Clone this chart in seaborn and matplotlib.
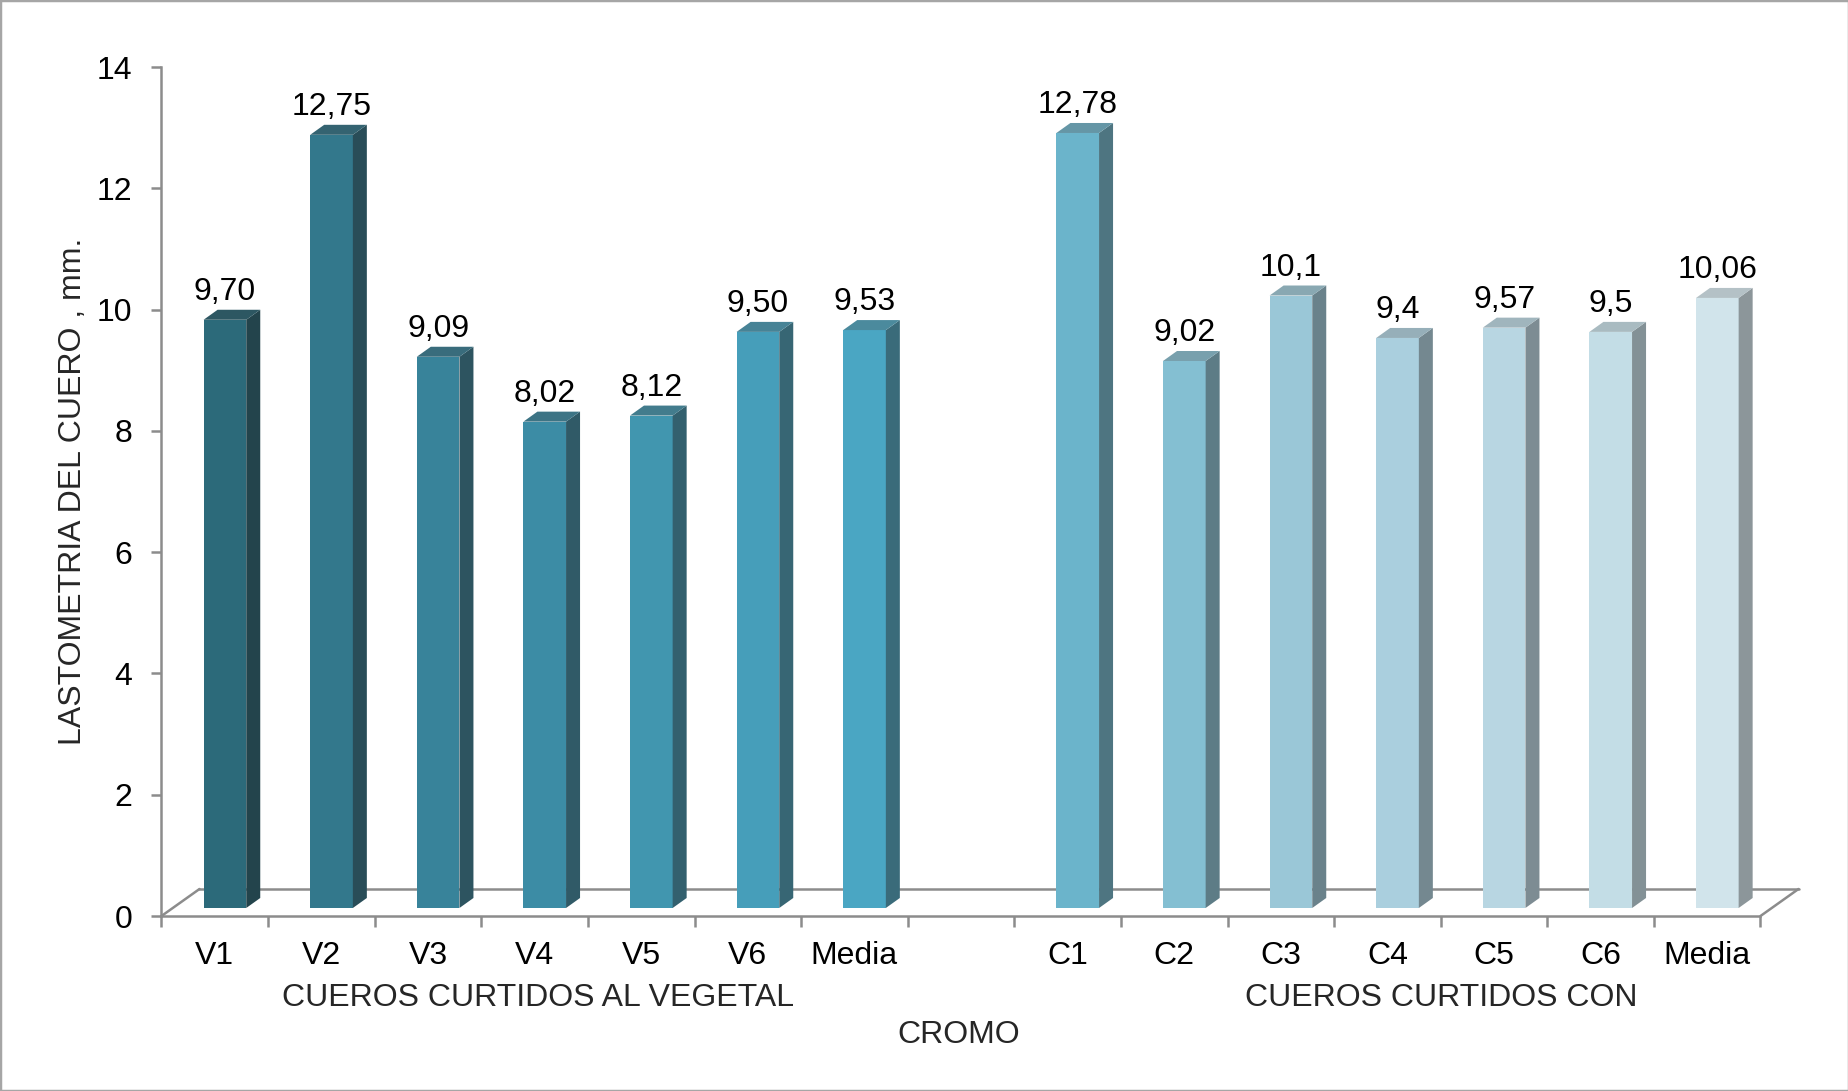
import numpy as np
import pandas as pd
import matplotlib
matplotlib.use("Agg")
import matplotlib.pyplot as plt
from matplotlib.patches import Polygon, Rectangle
from matplotlib.colors import to_rgb
import seaborn as sns

# ---- data -------------------------------------------------------------
categories = ["V1", "V2", "V3", "V4", "V5", "V6", "Media", "",
              "C1", "C2", "C3", "C4", "C5", "C6", "Media"]
positions = [0, 1, 2, 3, 4, 5, 6, 8, 9, 10, 11, 12, 13, 14]
values = [9.70, 12.75, 9.09, 8.02, 8.12, 9.50, 9.53,
          12.78, 9.02, 10.1, 9.4, 9.57, 9.5, 10.06]
value_labels = ["9,70", "12,75", "9,09", "8,02", "8,12", "9,50", "9,53",
                "12,78", "9,02", "10,1", "9,4", "9,57", "9,5", "10,06"]
front_colors = ["#2C6A7A", "#33788C", "#38839A", "#3C8CA5", "#4196AF", "#469EBA", "#4AA6C3",
                "#6BB4CB", "#84BFD2", "#9AC7D7", "#AACFDE", "#B8D6E2", "#C3DDE6", "#D1E4EB"]
y_ticks = [0, 2, 4, 6, 8, 10, 12, 14]
y_title = "LASTOMETRIA DEL CUERO , mm."
group_left = "CUEROS CURTIDOS AL VEGETAL"
group_right = "CUEROS CURTIDOS CON"
group_right_2 = "CROMO"

# ---- figure -----------------------------------------------------------
W, H = 1849, 1091
sns.set_theme(style="white")
plt.rcParams["font.family"] = ["Liberation Sans", "DejaVu Sans"]
FS = 23

fig = plt.figure(figsize=(W / 100, H / 100), dpi=100)
fig.patch.set_facecolor("white")

# plot area in pixels
x0, x1 = 161.5, 1760.5
y_top, y_bot = 67, 916
ax = fig.add_axes([x0 / W, (H - y_bot) / H, (x1 - x0) / W, (y_bot - y_top) / H])

df = pd.DataFrame({"pos": positions, "value": values, "key": [f"b{i}" for i in range(len(values))]})
sns.barplot(data=df, x="pos", y="value", hue="key", palette=front_colors,
            native_scale=True, dodge=False, legend=False, width=0.4,
            saturation=1, ax=ax, zorder=3)

ax.set_xlim(-0.5, 14.5)
ax.set_ylim(0, 14)

px_x = (x1 - x0) / 15.0   # pixels per category slot
px_y = (y_bot - y_top) / 14.0  # pixels per unit

# depth geometry (in data units)
base = 8 / px_y          # bars stand slightly behind the front edge of the floor
shift = 0.095            # bar offset to the right inside its slot
ddx = 14 / px_x          # bar depth, horizontal
ddy = 10 / px_y          # bar depth, vertical
fdx = 38 / px_x          # floor depth, horizontal
fdy = 27 / px_y          # floor depth, vertical


def shade(c, f):
    r, g, b = to_rgb(c)
    grey = (r + g + b) / 3
    return tuple(min(1, max(0, (0.8 * v + 0.2 * grey) * f)) for v in (r, g, b))


bars = sorted([p for p in ax.patches if p.get_height() > 0], key=lambda p: p.get_x())
for p, col, lab in zip(bars, front_colors, value_labels):
    v = p.get_height()
    p.set_x(p.get_x() + shift)
    p.set_y(base)
    p.set_edgecolor("none")
    p.set_zorder(3)
    xl = p.get_x()
    xr = xl + p.get_width()
    side = Polygon([(xr, base), (xr + ddx, base + ddy), (xr + ddx, base + v + ddy), (xr, base + v)],
                   closed=True, facecolor=shade(col, 0.66), edgecolor="none", zorder=3)
    top = Polygon([(xl, base + v), (xl + ddx, base + v + ddy), (xr + ddx, base + v + ddy), (xr, base + v)],
                  closed=True, facecolor=shade(col, 0.85), edgecolor="none", zorder=3)
    ax.add_patch(side)
    ax.add_patch(top)
    ax.annotate(lab, xy=((xl + xr) / 2, base + v + ddy), xytext=(0, 7), textcoords="offset points",
                ha="center", va="baseline", fontsize=FS, color="black", zorder=5)

# floor outline
floor_c = "#8C8C8C"
lw = 1.8
ax.plot([-0.5 + fdx, 14.5 + fdx], [fdy, fdy], color=floor_c, lw=lw, zorder=1, clip_on=False)
ax.plot([-0.5, -0.5 + fdx], [0, fdy], color=floor_c, lw=lw, zorder=1, clip_on=False)
ax.plot([14.5, 14.5 + fdx], [0, fdy], color=floor_c, lw=lw, zorder=1, clip_on=False)

# axes lines
for s in ["top", "right"]:
    ax.spines[s].set_visible(False)
for s in ["left", "bottom"]:
    ax.spines[s].set_color(floor_c)
    ax.spines[s].set_linewidth(lw)
    ax.spines[s].set_zorder(1)

ax.set_yticks(y_ticks)
ax.set_yticklabels([str(t) for t in y_ticks], fontsize=FS, color="black")
ax.tick_params(axis="y", which="major", left=True, length=7.2, width=lw, color=floor_c, pad=14)

ax.set_xticks(np.arange(-0.5, 15.0, 1.0))
ax.set_xticklabels([])
ax.set_xticks(np.arange(0, 15), minor=True)
ax.set_xticklabels(categories, minor=True, fontsize=FS, color="black")
ax.tick_params(axis="x", which="major", bottom=True, length=8, width=lw, color=floor_c, direction="out")
ax.tick_params(axis="x", which="minor", bottom=True, length=0, pad=18)
ax.grid(False)
ax.set_xlabel("")
ax.set_ylabel("")
ax.set_facecolor("none")

# titles
fig.text(73 / W, 1 - 491 / H, y_title, rotation=90, ha="center", va="center", fontsize=FS)
fig.text(538 / W, 1 - 998 / H, group_left, ha="center", va="center", fontsize=FS)
fig.text(1441 / W, 1 - 998 / H, group_right, ha="center", va="center", fontsize=FS)
fig.text(959 / W, 1 - 1035 / H, group_right_2, ha="center", va="center", fontsize=FS)

# outer frame
fig.patches.append(Rectangle((0, 0), 1, 1, transform=fig.transFigure, fill=False,
                             edgecolor="#A6A6A6", lw=2.5, zorder=10))

fig.savefig("out.png", dpi=100, facecolor="white")
